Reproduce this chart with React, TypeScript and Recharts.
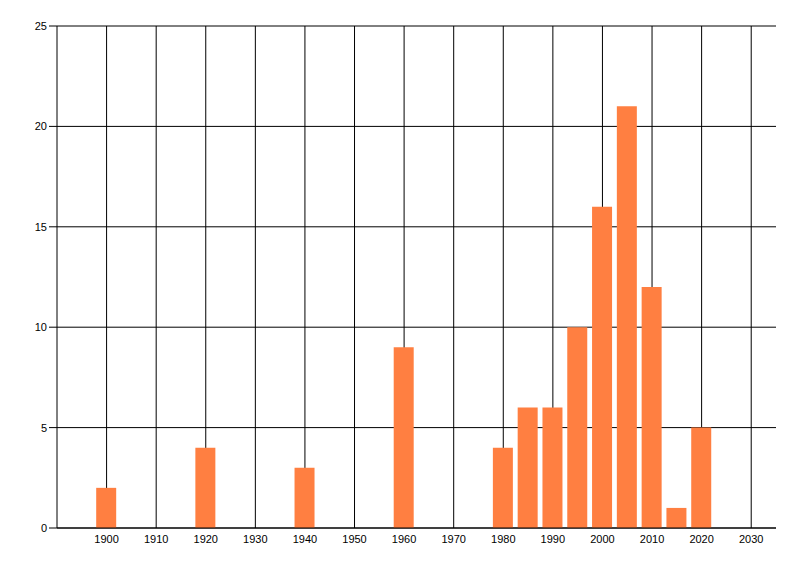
import { BarChart, Bar, XAxis, YAxis, CartesianGrid } from 'recharts';

const years = [1900, 1920, 1940, 1960, 1980, 1985, 1990, 1995, 2000, 2005, 2010, 2015, 2020];
const counts = [2, 4, 3, 9, 4, 6, 6, 10, 16, 21, 12, 1, 5];
const xTicks = [1900, 1910, 1920, 1930, 1940, 1950, 1960, 1970, 1980, 1990, 2000, 2010, 2020, 2030];
const yTicks = [0, 5, 10, 15, 20, 25];

const data = years.map((year, i) => ({ year, count: counts[i] }));

const tickStyle = { fontFamily: 'Liberation Sans, Arial, sans-serif', fontSize: 11, fill: '#000' };

// grid only at the labelled years, taken from the axis scale
const verticalLines = (props: any) => {
  const scale = props?.xAxis?.scale;
  if (scale && typeof scale === 'function') return xTicks.map((t) => scale(t));
  if (scale && typeof scale.map === 'function') return xTicks.map((t) => scale.map(t));
  return [];
};

export default function App() {
  return (
    <div style={{ position: 'absolute', left: 0, top: 0, background: '#fff' }}>
      <BarChart
        width={800}
        height={576}
        data={data}
        margin={{ top: 26, right: 24, bottom: 18, left: 0 }}
      >
        <CartesianGrid stroke="#000" strokeWidth={1} verticalCoordinatesGenerator={verticalLines} />
        <XAxis
          dataKey="year"
          type="number"
          domain={[1890, 2035]}
          ticks={xTicks}
          allowDataOverflow
          height={30}
          tickLine={false}
          tickSize={0}
          tickMargin={7}
          axisLine={{ stroke: '#000' }}
          tick={tickStyle}
          interval={0}
        />
        <YAxis
          domain={[0, 25]}
          ticks={yTicks}
          width={57}
          tickSize={8}
          tickMargin={2}
          axisLine={{ stroke: '#000' }}
          tickLine={{ stroke: '#000' }}
          tick={tickStyle}
          interval={0}
        />
        <Bar dataKey="count" fill="#ff7f41" barSize={20} isAnimationActive={false} />
      </BarChart>
    </div>
  );
}
